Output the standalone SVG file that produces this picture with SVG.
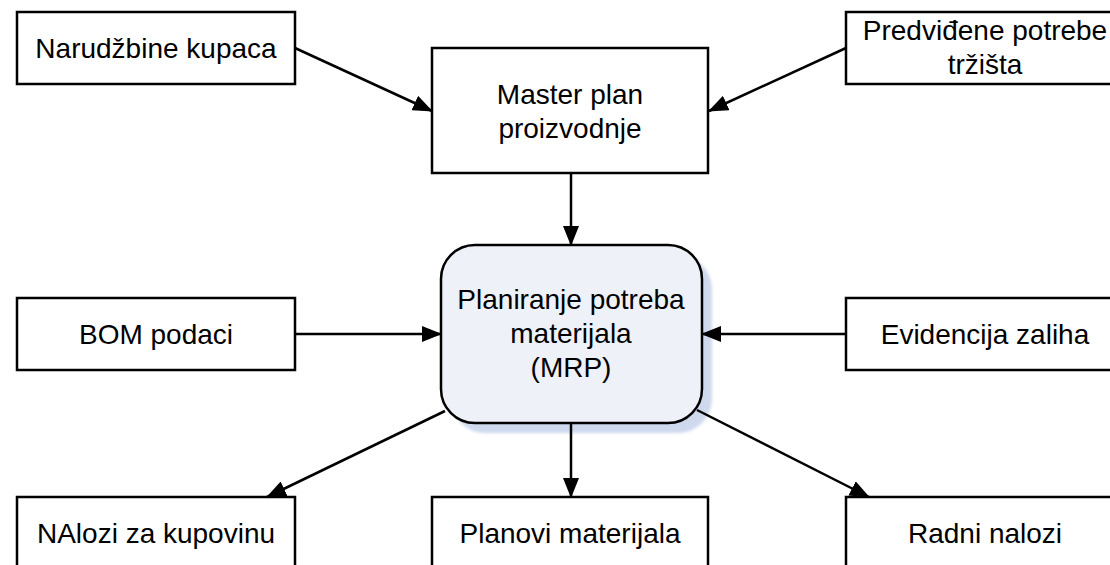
<svg xmlns="http://www.w3.org/2000/svg" width="1110" height="565" viewBox="0 0 1110 565">
<style>
.box{fill:#ffffff;stroke:#000000;stroke-width:2.5}
.t{font-family:"Liberation Sans",Arial,sans-serif;font-size:28px;fill:#000000;text-anchor:middle}
.c{stroke:#000000;stroke-width:2.5;fill:none;marker-end:url(#ah)}
</style>
<defs>
<marker id="ah" markerUnits="userSpaceOnUse" markerWidth="20" markerHeight="16" refX="19" refY="8" orient="auto" viewBox="0 0 20 16">
<path d="M0,0 L20,8 L0,16 z" fill="#000000"/>
</marker>
<filter id="blur" x="-10%" y="-10%" width="120%" height="120%"><feGaussianBlur stdDeviation="1.5"/></filter>
</defs>
<rect width="1110" height="565" fill="#ffffff"/>
<g id="narudzbine">
<rect class="box" x="17" y="12" width="278" height="72"/>
<text class="t" x="156" y="58">Narudžbine kupaca</text>
</g>
<g id="master">
<rect class="box" x="432" y="48" width="276" height="125"/>
<text class="t" x="570" y="104">Master plan</text>
<text class="t" x="570" y="138">proizvodnje</text>
</g>
<g id="predvidjene">
<rect class="box" x="846" y="12" width="278" height="72"/>
<text class="t" x="985" y="40">Predviđene potrebe</text>
<text class="t" x="985" y="74">tržišta</text>
</g>
<g id="mrp">
<rect x="451" y="255" width="261" height="178" rx="34" ry="34" fill="#cfd9ee" filter="url(#blur)"/>
<rect x="441" y="245" width="261" height="178" rx="34" ry="34" fill="#eef1f7" stroke="#000000" stroke-width="2.5"/>
<text class="t" x="571" y="309">Planiranje potreba</text>
<text class="t" x="571" y="343">materijala</text>
<text class="t" x="571" y="377">(MRP)</text>
</g>
<g id="bom">
<rect class="box" x="17" y="298" width="278" height="72"/>
<text class="t" x="156" y="344">BOM podaci</text>
</g>
<g id="evidencija">
<rect class="box" x="846" y="298" width="278" height="72"/>
<text class="t" x="985" y="344">Evidencija zaliha</text>
</g>
<g id="nalozi-kupovina">
<rect class="box" x="17" y="497" width="278" height="72"/>
<text class="t" x="156" y="543">NAlozi za kupovinu</text>
</g>
<g id="planovi">
<rect class="box" x="432" y="497" width="276" height="72"/>
<text class="t" x="570" y="543">Planovi materijala</text>
</g>
<g id="radni">
<rect class="box" x="846" y="497" width="278" height="72"/>
<text class="t" x="985" y="543">Radni nalozi</text>
</g>
<g id="connectors">
<line class="c" x1="295" y1="48" x2="432" y2="111"/>
<line class="c" x1="846" y1="48" x2="709" y2="111"/>
<line class="c" x1="571" y1="173" x2="571" y2="245"/>
<line class="c" x1="295" y1="334" x2="441" y2="334"/>
<line class="c" x1="846" y1="334" x2="702" y2="334"/>
<line class="c" x1="445" y1="411" x2="267" y2="497"/>
<line class="c" x1="571" y1="423" x2="571" y2="497"/>
<line class="c" x1="697" y1="410" x2="869" y2="497"/>
</g>
</svg>
